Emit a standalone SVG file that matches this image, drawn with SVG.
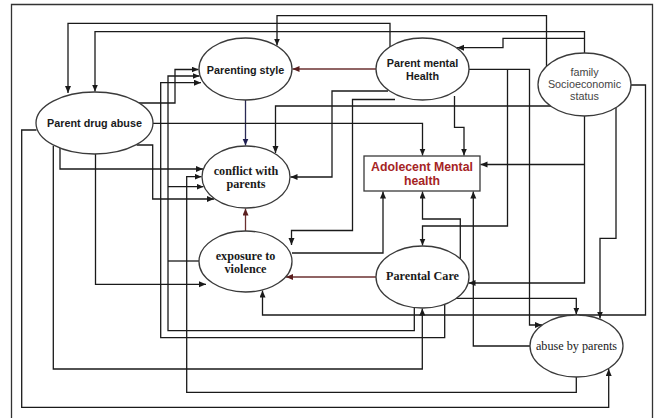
<svg xmlns="http://www.w3.org/2000/svg" width="657" height="418" viewBox="0 0 657 418">
<defs>
<marker id="ah" markerUnits="userSpaceOnUse" markerWidth="8" markerHeight="8" refX="7" refY="3" orient="auto"><path d="M0,0 L7,3 L0,6 z" fill="#1a1a1a"/></marker>
<marker id="ahr" markerUnits="userSpaceOnUse" markerWidth="8" markerHeight="8" refX="7" refY="3" orient="auto"><path d="M0,0 L7,3 L0,6 z" fill="#5a1e1e"/></marker>
<marker id="ahn" markerUnits="userSpaceOnUse" markerWidth="8" markerHeight="8" refX="7" refY="3" orient="auto"><path d="M0,0 L7,3 L0,6 z" fill="#1e1e50"/></marker>
<style>
.c{fill:none;stroke:#1a1a1a;stroke-width:1.3;marker-end:url(#ah)}
.n{fill:none;stroke:#1a1a1a;stroke-width:1.3}
.r{fill:none;stroke:#6b3030;stroke-width:1.3;marker-end:url(#ahr)}
.v{fill:none;stroke:#2a2a55;stroke-width:1.3;marker-end:url(#ahn)}
ellipse,rect.box{fill:#fff;stroke:#3a3a3a;stroke-width:1.3}
.sb{font-family:"Liberation Sans",Arial,sans-serif;font-weight:bold;font-size:10.8px;fill:#1a1a1a;text-anchor:middle}
.sn{font-family:"Liberation Sans",Arial,sans-serif;font-size:10.8px;fill:#444;text-anchor:middle}
.tb{font-family:"Liberation Serif","Times New Roman",serif;font-weight:bold;font-size:12.2px;fill:#1a1a1a;text-anchor:middle}
.tn{font-family:"Liberation Serif","Times New Roman",serif;font-size:12.2px;fill:#1a1a1a;text-anchor:middle}
.am{font-family:"Liberation Sans",Arial,sans-serif;font-weight:bold;font-size:12.3px;fill:#a52424;text-anchor:middle}
</style>
</defs>
<rect width="657" height="418" fill="#fff"/>
<path d="M11.5,420 V4.5 H652.5 V420" fill="none" stroke="#333" stroke-width="1.3"/>
<g id="connectors">
<path class="c" d="M546.5,68 V15.7 H277 V45.5"/>
<path class="c" d="M390,48 V23.3 H68 V93"/>
<path class="c" d="M584.5,54 V31.7 H95 V91.5"/>
<path class="c" d="M584.5,38.3 H503 V47.7 H457"/>
<path class="r" d="M377,69 H292.5"/>
<path class="c" d="M138,103 H175 V69.5 H198.5"/>
<path class="v" d="M245.5,100 V145.5"/>
<path class="c" d="M552,106 H275.5 V153"/>
<path class="c" d="M388,91 H332 V177 H290.5"/>
<path class="c" d="M395,99.5 H352.5 V230.5 H291.5 V245"/>
<path class="c" d="M153,123.3 H422.5 V155.5"/>
<path class="c" d="M454.5,96 V127.3 H464 V155.5"/>
<path class="c" d="M584.5,116 V283 H468.5"/>
<path class="c" d="M584.5,164.5 H480.5"/>
<path class="c" d="M616,102 V238.3 H600 V318.5"/>
<path class="c" d="M630,85 H645.5 V315 H262.5 V290.5"/>
<path class="c" d="M469,69.3 H529.5 V325 H542"/>
<path class="c" d="M507.5,69.3 V226 H422.5 V245.5"/>
<path class="c" d="M460.3,259 V219 H422.5 V191.5"/>
<path class="c" d="M292,253 H383 V191.5"/>
<path class="r" d="M376,277 H286"/>
<path class="r" d="M245.5,231 V208.5"/>
<path class="c" d="M530,346 H473.3 V191.5"/>
<path class="c" d="M455,298.3 H576.3 V314.5"/>
<path class="c" d="M36.5,130 H21.7 V407.3 H608.7 V369"/>
<path class="c" d="M53.3,146 V369 H422.3 V308.5"/>
<path class="c" d="M60,148 V169 H203"/>
<path class="c" d="M136.7,145 H152.7 V199 H214"/>
<path class="c" d="M95.5,154 V284.3 H206"/>
<path class="c" d="M444.7,304 V337.7 H160.7 V82.7 H201"/>
<path class="c" d="M414.3,307.5 V330.7 H168 V76 H199.5"/>
<path class="c" d="M168,186.7 H203.5"/>
<path class="n" d="M199,261 H168"/>
<path class="c" d="M576.3,377 V392.3 H186.7 V176.7 H201.5"/>
</g>
<g id="parenting-style"><ellipse cx="245.5" cy="69" rx="46.5" ry="31"/><text class="sb" x="245.5" y="73.5">Parenting style</text></g>
<g id="parent-drug-abuse"><ellipse cx="94.5" cy="123" rx="58.5" ry="31"/><text class="sb" x="94.5" y="127.2">Parent drug abuse</text></g>
<g id="parent-mental-health"><ellipse cx="422.5" cy="69" rx="46.5" ry="31"/><text class="sb" x="422.5" y="67.2">Parent mental</text><text class="sb" x="422.5" y="79.6">Health</text></g>
<g id="family-ses"><ellipse cx="584.5" cy="84.5" rx="46.5" ry="31.5"/><text class="sn" x="584.5" y="76">family</text><text class="sn" x="584.5" y="88">Socioeconomic</text><text class="sn" x="584.5" y="100.3">status</text></g>
<g id="conflict-with-parents"><ellipse cx="246" cy="177" rx="44" ry="31"/><text class="tb" x="246" y="174.8">conflict with</text><text class="tb" x="246" y="188">parents</text></g>
<g id="adolescent-mental-health"><rect class="box" x="364" y="156" width="116" height="35"/><text class="am" x="422" y="170.6">Adolecent Mental</text><text class="am" x="422" y="185">health</text></g>
<g id="exposure-to-violence"><ellipse cx="245.5" cy="261.5" rx="46.5" ry="30.5"/><text class="tb" x="245.5" y="259.5">exposure to</text><text class="tb" x="245.5" y="272.8">violence</text></g>
<g id="parental-care"><ellipse cx="422.5" cy="277" rx="46.5" ry="31"/><text class="tb" x="422.5" y="280">Parental Care</text></g>
<g id="abuse-by-parents"><ellipse cx="576.5" cy="346" rx="46.5" ry="31"/><text class="tn" x="576.5" y="350.3">abuse by parents</text></g>
</svg>
